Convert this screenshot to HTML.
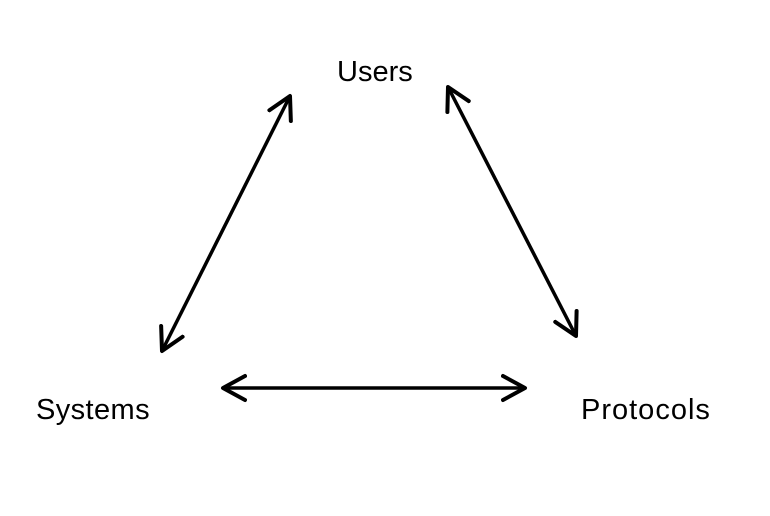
<!DOCTYPE html>
<html><head><style>
html,body{margin:0;padding:0;background:#fff;}
.t{position:absolute;font-family:"Liberation Sans",sans-serif;font-size:29px;color:#000;line-height:1;}
</style></head><body>
<div style="position:relative;width:770px;height:516px;overflow:hidden;">
<svg width="770" height="516" style="position:absolute;left:0;top:0">
<defs>
<marker id="a" markerUnits="userSpaceOnUse" markerWidth="40" markerHeight="40" refX="24" refY="20" orient="auto-start-reverse" viewBox="0 0 40 40">
<path d="M2,8 L24,20 L2,32" fill="none" stroke="#000" stroke-width="4" stroke-linecap="round" stroke-linejoin="round"/>
</marker>
</defs>
<g stroke="#000" stroke-width="3.5" fill="none">
<line x1="290" y1="96" x2="162" y2="351" marker-start="url(#a)" marker-end="url(#a)"/>
<line x1="448" y1="87" x2="576" y2="336" marker-start="url(#a)" marker-end="url(#a)"/>
<line x1="223" y1="388" x2="525" y2="388" marker-start="url(#a)" marker-end="url(#a)"/>
</g>
</svg>
<div class="t" style="left:337px;top:58px;">Users</div>
<div class="t" style="left:36px;top:396px;letter-spacing:0.4px;">Systems</div>
<div class="t" style="left:581px;top:396px;letter-spacing:1px;">Protocols</div>
</div>
</body></html>
